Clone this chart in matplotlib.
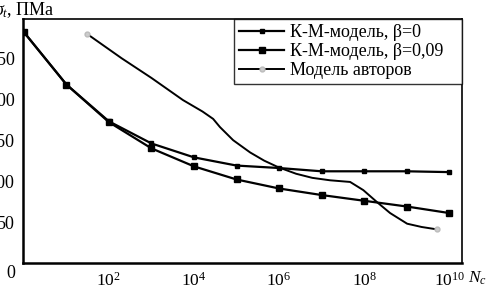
import numpy as np
import matplotlib
matplotlib.use("Agg")
import matplotlib.pyplot as plt

plt.rcParams['font.family'] = ['Liberation Serif', 'DejaVu Serif']
plt.rcParams['mathtext.fontset'] = 'custom'
plt.rcParams['mathtext.rm'] = 'Liberation Serif'
plt.rcParams['mathtext.it'] = 'Liberation Serif:italic'

# К-М-модель: точки через каждую декаду, N = 10^0 ... 10^10
lg_km = np.arange(0, 11)
km_b0 = [282, 218, 173, 146, 129, 119, 116, 112, 112, 112, 111]
km_b009 = [282, 218, 172, 140, 118, 102, 91, 83, 76, 69, 61]

# Модель авторов
lg_av = [1.48, 2.3, 3.0, 3.74, 4.2, 4.45, 4.61, 4.92, 5.32, 5.65, 5.98,
         6.4, 6.78, 7.2, 7.67, 7.98, 8.31, 8.61, 9.01, 9.35, 9.72]
av = [280, 250, 226, 199, 185, 176, 166, 150, 135, 125, 117,
      109, 104, 101, 99, 89, 74, 61, 48, 44, 41]

yticks = [50, 100, 150, 200, 250]
xticks = [2, 4, 6, 8, 10]

fig = plt.figure(figsize=(4.96, 2.91), dpi=100)
ax = fig.add_axes([23/496, 1 - 263/291, (462-23)/496, (263-19)/291])

N_km = 10.0 ** lg_km
N_av = 10.0 ** np.array(lg_av)

ax.plot(N_km, km_b0, color='black', lw=1.6, marker='s', ms=3.5,
        label='К-М-модель, β=0')
ax.plot(N_km, km_b009, color='black', lw=1.6, marker='s', ms=4.2,
        label='К-М-модель, β=0,09   ')
ax.plot(N_av, av, color='black', lw=1.4, marker='o', ms=3.5,
        mfc='#cccccc', mec='#bbbbbb', markevery=[0, len(av) - 1],
        label='Модель авторов')

ax.set_xscale('log')
ax.set_xlim(10 ** -0.02, 10 ** 10.3)
ax.set_ylim(0, 298)
ax.minorticks_off()
ax.set_xticks([10.0 ** k for k in xticks])
ax.set_xticklabels([r'$10^{%d}$' % k for k in xticks], fontsize=12.5)
ax.set_yticks(yticks)
ax.set_yticklabels([str(v) for v in yticks], fontsize=13)
ax.tick_params(length=0, pad=6)

for s in ['left', 'bottom']:
    ax.spines[s].set_linewidth(1.8)
for s in ['top', 'right']:
    ax.spines[s].set_linewidth(1.2)

fig.text(15/496, 1 - 274/291, '0', ha='right', va='center', fontsize=13)
fig.text(468/496, 1 - 278/291, r'$N_c$', ha='left', va='center', fontsize=12.5)
fig.text(55/496, 1 - 10/291, r'$\sigma_t$, ПМа', ha='right', va='center', fontsize=13)

leg = ax.legend(loc='upper right', fontsize=13, frameon=True, fancybox=False,
                edgecolor='black', borderaxespad=0, handlelength=2.5,
                labelspacing=0.1, handletextpad=0.3, borderpad=0.3)
leg.get_frame().set_linewidth(1.0)

fig.savefig('out.png', dpi=100)
